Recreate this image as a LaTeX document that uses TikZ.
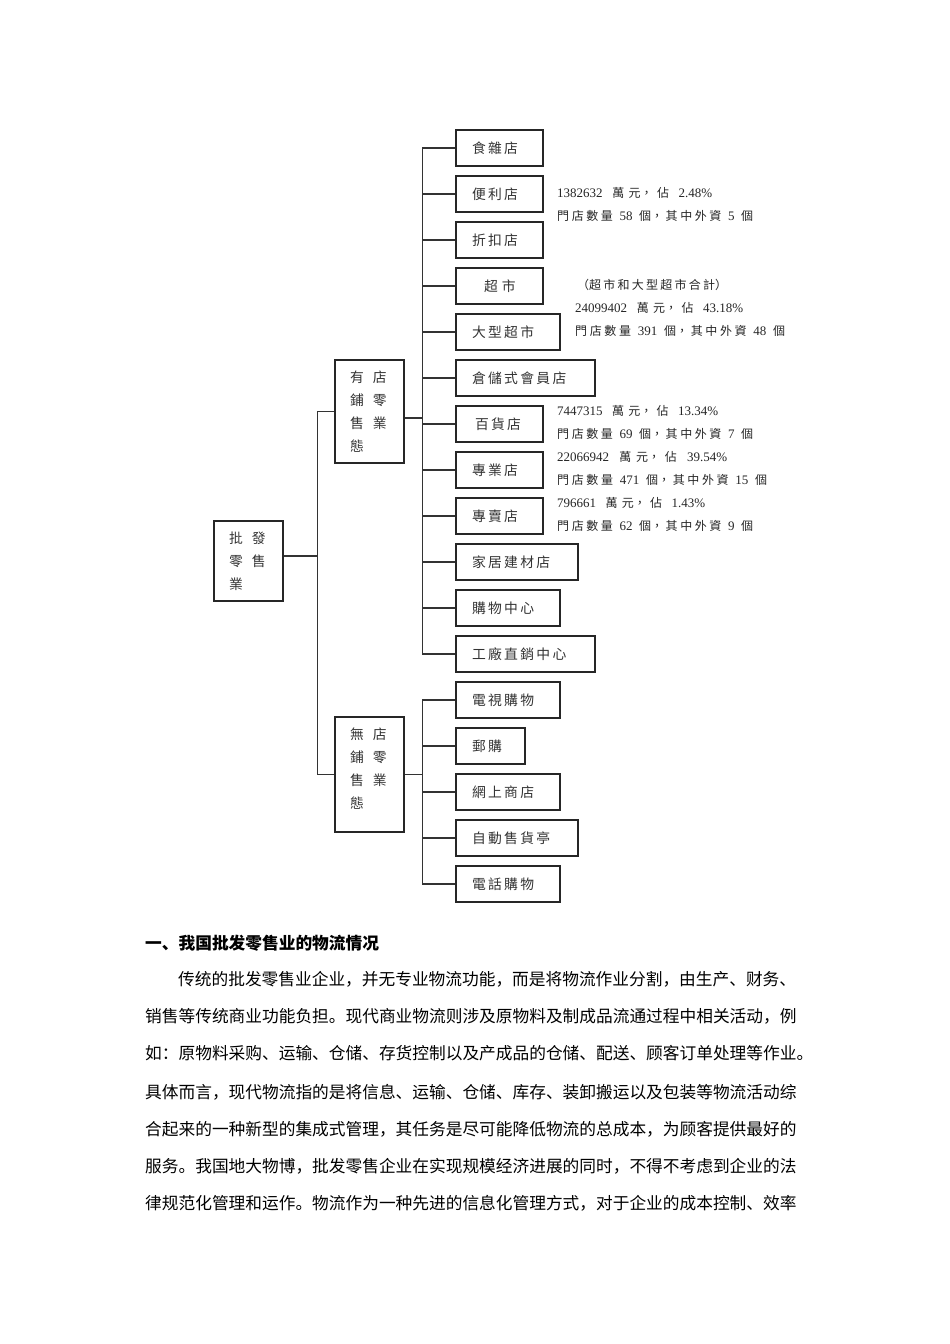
\documentclass[tikz,border=0pt]{standalone}
\usepackage{fontspec}
\setmainfont{Liberation Serif}
\newfontfamily\tcfont{Noto Sans CJK TC}
\newfontfamily\scfont{Noto Sans CJK SC}
\XeTeXlinebreaklocale "zh"
\XeTeXlinebreakskip=0pt plus 1pt\relax
\newcommand\boxfont{\tcfont\fontsize{13.8}{23}\selectfont\XeTeXlinebreakskip=2.3pt\relax}
\newcommand\annfont{\fontsize{13}{15}\selectfont}
\newcommand\bodyfont{\scfont\fontsize{16.7}{18}\selectfont}
\newcommand\headfont{\scfont\bfseries\fontsize{16.7}{18}\selectfont}
\newcommand\gap{\kern9pt\relax}
\newcommand\sk{\hspace{3pt plus 1.6fil}}
\newcommand\g{\hspace{0.3pt plus 1fil}}
\tikzset{
  box/.style={draw=black!85, line width=1.1pt, rectangle, inner xsep=16pt, inner ysep=0pt,
    minimum height=36pt, align=left, text=black!80, font=\boxfont},
  vertbox/.style={box, inner xsep=15pt, text width=39pt},
  conn/.style={draw=black!80, line width=1.1pt},
  ann/.style={anchor=west, inner sep=0pt, text=black!85, font=\annfont},
  body/.style={anchor=west, inner sep=0pt, text=black, font=\bodyfont},
}
\newcommand\cj[1]{{\tcfont\fontsize{12}{14}\selectfont #1}}
\newcommand\stores[2]{\cj{門\g{}店\g{}數\g{}量}\sk #1\sk\cj{個，\g{}其\g{}中\g{}外\g{}資}\sk #2\sk\cj{個}}
\newcommand\amount[2]{#1\sk\cj{萬\g{}元，\g{}佔}\sk #2\%}
\begin{document}
\begin{tikzpicture}[x=1pt,y=-1pt]
\useasboundingbox[fill=white] (0,0) rectangle (950,1344);

% level 0 and 1
\node[vertbox, minimum height=80pt] (root) at (248.5,561) {批\gap 發\\零\gap 售\\業};
\node[vertbox, minimum height=103pt] (yd) at (369.5,411.5) {有\gap 店\\鋪\gap 零\\售\gap 業\\態};
\node[vertbox, minimum height=115pt] (wd) at (369.5,774.5) {無\gap 店\\鋪\gap 零\\售\gap 業\\態\rule[-12pt]{0pt}{12pt}};

% children of yd
\node[box, text width=55pt]  (c1)  at (499.5,148) {食雜店};
\node[box, text width=55pt]  (c2)  at (499.5,194) {便利店};
\node[box, text width=55pt]  (c3)  at (499.5,240) {折扣店};
\node[box, text width=55pt]  (c4)  at (499.5,286) {\kern12pt 超\kern4pt 市};
\node[box, text width=72pt]  (c5)  at (508,332)   {大型超市};
\node[box, text width=107pt] (c6)  at (525.5,378) {倉儲式會員店};
\node[box, text width=55pt]  (c7)  at (499.5,424) {\kern3pt 百貨店};
\node[box, text width=55pt]  (c8)  at (499.5,470) {專業店};
\node[box, text width=55pt]  (c9)  at (499.5,516) {專賣店};
\node[box, text width=90pt]  (c10) at (517,562)   {家居建材店};
\node[box, text width=72pt]  (c11) at (508,608)   {購物中心};
\node[box, text width=107pt] (c12) at (525.5,654) {工廠直銷中心};

% children of wd
\node[box, text width=72pt]  (d1) at (508,700)   {電視購物};
\node[box, text width=37pt]  (d2) at (490.5,746) {郵購};
\node[box, text width=72pt]  (d3) at (508,792)   {網上商店};
\node[box, text width=90pt]  (d4) at (517,838)   {自動售貨亭};
\node[box, text width=72pt]  (d5) at (508,884)   {電話購物};

% connectors
\draw[conn] ([yshift=5pt]root.east) -- ++(34,0) coordinate (j0);
\draw[conn] (j0) |- (yd.west);
\draw[conn] (j0) |- (wd.west);
\draw[conn] ([yshift=-6.5pt]yd.east) -- ++(18,0) coordinate (j1);
\foreach \c in {c1,c2,c3,c4,c5,c6,c7,c8,c9,c10,c11,c12} \draw[conn] (j1) |- (\c.west);
\draw[conn] (wd.east) -- ++(18,0) coordinate (j2);
\foreach \c in {d1,d2,d3,d4,d5} \draw[conn] (j2) |- (\c.west);

% annotations
\node[ann] (a1) at (557,193) {\makebox[155pt][s]{\amount{1382632}{2.48}}};
\node[ann] (a2) at (557,216) {\makebox[196pt][s]{\stores{58}{5}}};
\node[ann] (a3) at (577,285) {\makebox[150pt][s]{\cj{（超\g{}市\g{}和\g{}大\g{}型\g{}超\g{}市\g{}合\g{}計）}}};
\node[ann] (a4) at (575,308) {\makebox[168pt][s]{\amount{24099402}{43.18}}};
\node[ann] (a5) at (575,331) {\makebox[210pt][s]{\stores{391}{48}}};
\node[ann] (a6) at (557,411) {\makebox[161pt][s]{\amount{7447315}{13.34}}};
\node[ann] (a7) at (557,434) {\makebox[196pt][s]{\stores{69}{7}}};
\node[ann] (a8) at (557,457) {\makebox[170pt][s]{\amount{22066942}{39.54}}};
\node[ann] (a9) at (557,480) {\makebox[210pt][s]{\stores{471}{15}}};
\node[ann] (a10) at (557,503) {\makebox[148pt][s]{\amount{796661}{1.43}}};
\node[ann] (a11) at (557,526) {\makebox[196pt][s]{\stores{62}{9}}};

% body text
\node[body, font=\headfont] (h) at (145,943) {一、我国批发零售业的物流情况};
\node[body] (l1) at (178,979)  {传统的批发零售业企业，并无专业物流功能，而是将物流作业分割，由生产、财务、};
\node[body] (l2) at (145,1016) {销售等传统商业功能负担。现代商业物流则涉及原物料及制成品流通过程中相关活动，例};
\node[body] (l3) at (145,1053) {如：原物料采购、运输、仓储、存货控制以及产成品的仓储、配送、顾客订单处理等作业。};
\node[body] (l4) at (145,1092) {具体而言，现代物流指的是将信息、运输、仓储、库存、装卸搬运以及包装等物流活动综};
\node[body] (l5) at (145,1129) {合起来的一种新型的集成式管理，其任务是尽可能降低物流的总成本，为顾客提供最好的};
\node[body] (l6) at (145,1166) {服务。我国地大物博，批发零售企业在实现规模经济进展的同时，不得不考虑到企业的法};
\node[body] (l7) at (145,1203) {律规范化管理和运作。物流作为一种先进的信息化管理方式，对于企业的成本控制、效率};
\end{tikzpicture}
\end{document}
